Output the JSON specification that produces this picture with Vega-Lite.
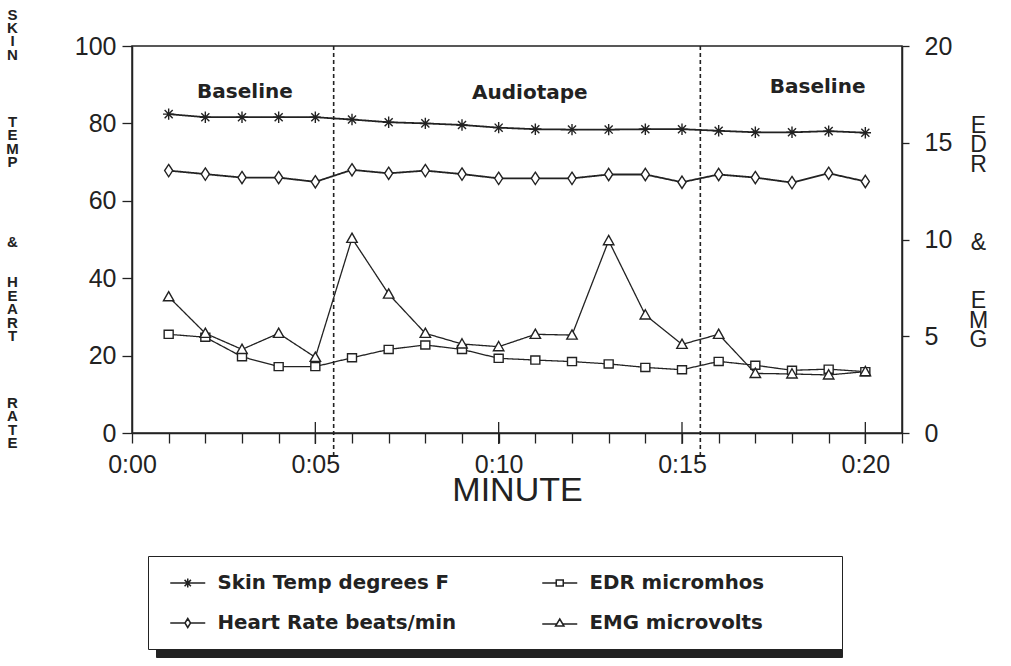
{
  "$schema": "https://vega.github.io/schema/vega-lite/v6.json",
  "width": 770,
  "height": 387,
  "autosize": {"type": "none"},
  "padding": {"left": 132, "top": 46, "right": 109, "bottom": 233},
  "background": "white",
  "config": {
    "view": {"stroke": "#222", "strokeWidth": 1.5},
    "font": "Liberation Sans"
  },
  "data": {
    "values": [
      {"minute": 1, "series": "Skin Temp degrees F", "value": 82.4},
      {"minute": 2, "series": "Skin Temp degrees F", "value": 81.6},
      {"minute": 3, "series": "Skin Temp degrees F", "value": 81.6},
      {"minute": 4, "series": "Skin Temp degrees F", "value": 81.6},
      {"minute": 5, "series": "Skin Temp degrees F", "value": 81.6},
      {"minute": 6, "series": "Skin Temp degrees F", "value": 81.0},
      {"minute": 7, "series": "Skin Temp degrees F", "value": 80.3},
      {"minute": 8, "series": "Skin Temp degrees F", "value": 80.0},
      {"minute": 9, "series": "Skin Temp degrees F", "value": 79.6},
      {"minute": 10, "series": "Skin Temp degrees F", "value": 78.9},
      {"minute": 11, "series": "Skin Temp degrees F", "value": 78.5},
      {"minute": 12, "series": "Skin Temp degrees F", "value": 78.4},
      {"minute": 13, "series": "Skin Temp degrees F", "value": 78.4},
      {"minute": 14, "series": "Skin Temp degrees F", "value": 78.5},
      {"minute": 15, "series": "Skin Temp degrees F", "value": 78.5},
      {"minute": 16, "series": "Skin Temp degrees F", "value": 78.1},
      {"minute": 17, "series": "Skin Temp degrees F", "value": 77.7},
      {"minute": 18, "series": "Skin Temp degrees F", "value": 77.7},
      {"minute": 19, "series": "Skin Temp degrees F", "value": 78.0},
      {"minute": 20, "series": "Skin Temp degrees F", "value": 77.6},
      {"minute": 1, "series": "Heart Rate beats/min", "value": 67.8},
      {"minute": 2, "series": "Heart Rate beats/min", "value": 66.9},
      {"minute": 3, "series": "Heart Rate beats/min", "value": 66.0},
      {"minute": 4, "series": "Heart Rate beats/min", "value": 66.0},
      {"minute": 5, "series": "Heart Rate beats/min", "value": 64.9},
      {"minute": 6, "series": "Heart Rate beats/min", "value": 68.0},
      {"minute": 7, "series": "Heart Rate beats/min", "value": 67.1},
      {"minute": 8, "series": "Heart Rate beats/min", "value": 67.8},
      {"minute": 9, "series": "Heart Rate beats/min", "value": 66.9},
      {"minute": 10, "series": "Heart Rate beats/min", "value": 65.8},
      {"minute": 11, "series": "Heart Rate beats/min", "value": 65.8},
      {"minute": 12, "series": "Heart Rate beats/min", "value": 65.8},
      {"minute": 13, "series": "Heart Rate beats/min", "value": 66.8},
      {"minute": 14, "series": "Heart Rate beats/min", "value": 66.8},
      {"minute": 15, "series": "Heart Rate beats/min", "value": 64.8},
      {"minute": 16, "series": "Heart Rate beats/min", "value": 66.8},
      {"minute": 17, "series": "Heart Rate beats/min", "value": 66.0},
      {"minute": 18, "series": "Heart Rate beats/min", "value": 64.7},
      {"minute": 19, "series": "Heart Rate beats/min", "value": 67.1},
      {"minute": 20, "series": "Heart Rate beats/min", "value": 65.0},
      {"minute": 1, "series": "EDR micromhos", "value": 5.1},
      {"minute": 2, "series": "EDR micromhos", "value": 4.95},
      {"minute": 3, "series": "EDR micromhos", "value": 3.94},
      {"minute": 4, "series": "EDR micromhos", "value": 3.43},
      {"minute": 5, "series": "EDR micromhos", "value": 3.43},
      {"minute": 6, "series": "EDR micromhos", "value": 3.89},
      {"minute": 7, "series": "EDR micromhos", "value": 4.32},
      {"minute": 8, "series": "EDR micromhos", "value": 4.55},
      {"minute": 9, "series": "EDR micromhos", "value": 4.32},
      {"minute": 10, "series": "EDR micromhos", "value": 3.86},
      {"minute": 11, "series": "EDR micromhos", "value": 3.77},
      {"minute": 12, "series": "EDR micromhos", "value": 3.69},
      {"minute": 13, "series": "EDR micromhos", "value": 3.57},
      {"minute": 14, "series": "EDR micromhos", "value": 3.39},
      {"minute": 15, "series": "EDR micromhos", "value": 3.27},
      {"minute": 16, "series": "EDR micromhos", "value": 3.7},
      {"minute": 17, "series": "EDR micromhos", "value": 3.5},
      {"minute": 18, "series": "EDR micromhos", "value": 3.24},
      {"minute": 19, "series": "EDR micromhos", "value": 3.3},
      {"minute": 20, "series": "EDR micromhos", "value": 3.17},
      {"minute": 1, "series": "EMG microvolts", "value": 7.04},
      {"minute": 2, "series": "EMG microvolts", "value": 5.15},
      {"minute": 3, "series": "EMG microvolts", "value": 4.32},
      {"minute": 4, "series": "EMG microvolts", "value": 5.15},
      {"minute": 5, "series": "EMG microvolts", "value": 3.91},
      {"minute": 6, "series": "EMG microvolts", "value": 10.06},
      {"minute": 7, "series": "EMG microvolts", "value": 7.18},
      {"minute": 8, "series": "EMG microvolts", "value": 5.15},
      {"minute": 9, "series": "EMG microvolts", "value": 4.6},
      {"minute": 10, "series": "EMG microvolts", "value": 4.46},
      {"minute": 11, "series": "EMG microvolts", "value": 5.1},
      {"minute": 12, "series": "EMG microvolts", "value": 5.06},
      {"minute": 13, "series": "EMG microvolts", "value": 9.94},
      {"minute": 14, "series": "EMG microvolts", "value": 6.1},
      {"minute": 15, "series": "EMG microvolts", "value": 4.58},
      {"minute": 16, "series": "EMG microvolts", "value": 5.1},
      {"minute": 17, "series": "EMG microvolts", "value": 3.08},
      {"minute": 18, "series": "EMG microvolts", "value": 3.05},
      {"minute": 19, "series": "EMG microvolts", "value": 3.0},
      {"minute": 20, "series": "EMG microvolts", "value": 3.17}
    ]
  },
  "encoding": {
    "x": {
      "field": "minute",
      "type": "quantitative",
      "scale": {"domain": [0, 21], "nice": false, "zero": false},
      "axis": {
        "values": [0,1,2,3,4,5,6,7,8,9,10,11,12,13,14,15,16,17,18,19,20,21],
        "labelExpr": "(datum.value % 5 === 0 && datum.value <= 20) ? '0:' + (datum.value < 10 ? '0' : '') + datum.value : ''",
        "tickSize": 10,
        "tickWidth": 1.3,
        "tickColor": "#222",
        "domainColor": "#222",
        "domainWidth": 1.5,
        "grid": false,
        "labelFontSize": 25,
        "labelColor": "#222",
        "labelBaseline": "alphabetic",
        "labelPadding": 29,
        "labelOverlap": false,
        "labelFlush": false,
        "title": "MINUTE",
        "titleFontSize": 34,
        "titleFontWeight": "normal",
        "titleColor": "#222",
        "titleBaseline": "alphabetic",
        "titleY": 67
      }
    }
  },
  "layer": [
    {
      "layer": [
        {
          "transform": [{"filter": {"field": "series", "oneOf": ["Skin Temp degrees F", "Heart Rate beats/min"]}}],
          "mark": {"type": "line", "color": "#222", "strokeWidth": 1.8},
          "encoding": {
            "y": {
              "field": "value",
              "type": "quantitative",
              "scale": {"domain": [0, 100], "nice": false},
              "axis": {
                "values": [0, 20, 40, 60, 80, 100],
                "tickSize": 10,
                "tickWidth": 1.3,
                "tickColor": "#222",
                "domainColor": "#222",
                "domainWidth": 1.5,
                "grid": false,
                "labelFontSize": 25,
                "labelColor": "#222",
                "labelPadding": 6,
                "title": ["S","K","I","N","\u2800","\u2800","\u2800","\u2800","T","E","M","P","\u2800","\u2800","\u2800","\u2800","\u2800","&","\u2800","\u2800","H","E","A","R","T","\u2800","\u2800","\u2800","\u2800","R","A","T","E"],
                "titleAngle": 0,
                "titleAlign": "center",
                "titleBaseline": "middle",
                "titleX": -120,
                "titleY": -32,
                "titleFontSize": 15,
                "titleFontWeight": "bold",
                "titleLineHeight": 13.4,
                "titleColor": "#222"
              }
            },
            "strokeDash": {
              "field": "series",
              "type": "nominal",
              "scale": {"range": [[1, 0], [1, 0], [1, 0], [1, 0]]},
              "legend": {
                "orient": "none",
                "legendX": 24,
                "legendY": 518,
                "title": null,
                "columns": 2,
                "gridAlign": "all",
                "columnPadding": 68,
                "rowPadding": 19,
                "padding": 16,
                "fillColor": "#222",
                "strokeColor": "#222",
                "symbolSize": 400,
                "symbolOpacity": 0,
                "symbolOffset": 12.75,
                "symbolStrokeWidth": 1.5,
                "labelOffset": 18.75,
                "labelFont": "DejaVu Sans",
                "labelFontWeight": "bold",
                "labelFontSize": 19.8,
                "labelColor": "#222",
                "labelOpacity": 0,
                "labelLimit": 0,
                "zindex": 0
              }
            }
          }
        },
        {
          "transform": [{"filter": {"field": "series", "oneOf": ["Skin Temp degrees F", "Heart Rate beats/min"]}}],
          "mark": {"type": "point", "filled": false, "fill": "white", "stroke": "#222", "strokeWidth": 1.4, "opacity": 1, "size": 90},
          "encoding": {
            "y": {"field": "value", "type": "quantitative", "scale": {"domain": [0, 100], "nice": false}},
            "shape": {
              "field": "series",
              "type": "nominal",
              "scale": {
                "domain": ["Skin Temp degrees F", "Heart Rate beats/min", "EDR micromhos", "EMG microvolts"],
                "range": [
                  "M0,-1.2V1.2M-1.2,0H1.2M-0.85,-0.85L0.85,0.85M-0.85,0.85L0.85,-0.85",
                  "M0,-1.3L0.85,0L0,1.3L-0.85,0Z",
                  "M-0.95,-0.85H0.95V0.85H-0.95Z",
                  "M0,-1.1L1.1,0.85H-1.1Z"
                ]
              },
              "legend": null
            }
          }
        },
        {
          "data": {"values": [{"minute": 5.5}, {"minute": 15.5}]},
          "mark": {"type": "rule", "strokeDash": [4, 3], "strokeWidth": 1.6, "color": "#222"},
          "encoding": {
            "y": {"datum": 100, "type": "quantitative", "scale": {"domain": [0, 100], "nice": false}},
            "y2": {"datum": -5.7}
          }
        },
        {
          "data": {"values": [
            {"minute": 3.08, "level": 88.0, "label": "Baseline"},
            {"minute": 10.85, "level": 87.8, "label": "Audiotape"},
            {"minute": 18.7, "level": 89.4, "label": "Baseline"}
          ]},
          "mark": {"type": "text", "font": "DejaVu Sans", "fontWeight": "bold", "fontSize": 20, "color": "#222", "baseline": "middle"},
          "encoding": {
            "y": {"field": "level", "type": "quantitative", "scale": {"domain": [0, 100], "nice": false}},
            "text": {"field": "label"}
          }
        },
        {
          "data": {"values": [{"minute": 5}, {"minute": 10}, {"minute": 15}, {"minute": 20}]},
          "mark": {"type": "tick", "orient": "vertical", "size": 22, "thickness": 1.3, "color": "#222", "opacity": 1},
          "encoding": {
            "y": {"datum": 0, "type": "quantitative", "scale": {"domain": [0, 100], "nice": false}}
          }
        }
      ]
    },
    {
      "layer": [
        {
          "transform": [{"filter": {"field": "series", "oneOf": ["EDR micromhos", "EMG microvolts"]}}],
          "mark": {"type": "line", "color": "#222", "strokeWidth": 1.3},
          "encoding": {
            "y": {
              "field": "value",
              "type": "quantitative",
              "scale": {"domain": [0, 20], "nice": false},
              "axis": {
                "orient": "right",
                "values": [0, 5, 10, 15, 20],
                "tickSize": 7,
                "tickWidth": 1.3,
                "tickColor": "#222",
                "domainColor": "#222",
                "domainWidth": 1.5,
                "grid": false,
                "labelFontSize": 25,
                "labelColor": "#222",
                "labelPadding": 15,
                "title": ["E","D","R","\u2800","\u2800","\u2800","&","\u2800","\u2800","E","M","G"],
                "titleAngle": 0,
                "titleAlign": "center",
                "titleBaseline": "middle",
                "titleX": 76,
                "titleY": 79,
                "titleFontSize": 23,
                "titleFontWeight": "normal",
                "titleLineHeight": 19.5,
                "titleColor": "#222"
              }
            },
            "strokeDash": {
              "field": "series",
              "type": "nominal",
              "scale": {"range": [[1, 0], [1, 0], [1, 0], [1, 0]]}
            }
          }
        },
        {
          "transform": [{"filter": {"field": "series", "oneOf": ["EDR micromhos", "EMG microvolts"]}}],
          "mark": {"type": "point", "filled": false, "fill": "white", "stroke": "#222", "strokeWidth": 1.4, "opacity": 1, "size": 90},
          "encoding": {
            "y": {"field": "value", "type": "quantitative", "scale": {"domain": [0, 20], "nice": false}},
            "shape": {
              "field": "series",
              "type": "nominal",
              "scale": {
                "domain": ["Skin Temp degrees F", "Heart Rate beats/min", "EDR micromhos", "EMG microvolts"],
                "range": [
                  "M0,-1.2V1.2M-1.2,0H1.2M-0.85,-0.85L0.85,0.85M-0.85,0.85L0.85,-0.85",
                  "M0,-1.3L0.85,0L0,1.3L-0.85,0Z",
                  "M-0.95,-0.85H0.95V0.85H-0.95Z",
                  "M0,-1.1L1.1,0.85H-1.1Z"
                ]
              },
              "legend": null
            }
          }
        }
      ]
    },
    {
      "transform": [{"filter": "false"}],
      "mark": {"type": "point", "filled": false, "fill": "white", "stroke": "#222", "strokeWidth": 1.5, "opacity": 1},
      "encoding": {
        "shape": {
          "field": "series",
          "type": "nominal",
          "scale": {
            "domain": ["Skin Temp degrees F", "Heart Rate beats/min", "EDR micromhos", "EMG microvolts"],
            "range": [
              "M-1.75,0H1.75M0,-0.45V0.45M-0.32,-0.32L0.32,0.32M-0.32,0.32L0.32,-0.32",
              "M-1.75,0H-0.28M0.28,0H1.75M0,-0.45L0.28,0L0,0.45L-0.28,0Z",
              "M-1.75,0H-0.35M0.35,0H1.75M-0.35,-0.3H0.35V0.3H-0.35Z",
              "M-1.75,0.1H-0.36M0.36,0.1H1.75M0,-0.4L0.42,0.3H-0.42Z"
            ]
          },
          "legend": {
            "orient": "none",
            "legendX": 16,
            "legendY": 510,
            "title": null,
            "columns": 2,
            "gridAlign": "all",
            "columnPadding": 18,
            "rowPadding": 19,
            "padding": 16,
            "fillColor": "white",
            "strokeColor": "#222",
            "symbolSize": 400,
            "symbolOffset": 12.75,
            "symbolStrokeWidth": 1.5,
            "symbolOpacity": 1,
            "labelOffset": 18.75,
            "labelFont": "DejaVu Sans",
            "labelFontWeight": "bold",
            "labelFontSize": 19.8,
            "labelColor": "#222",
            "labelLimit": 0,
            "labelExpr": "datum.label + '\u2800\u2800\u2800\u2800'",
            "zindex": 1,
            "encode": {
              "legend": {"strokeWidth": {"value": 1.5}}
            }
          }
        }
      }
    }
  ],
  "resolve": {"scale": {"y": "independent", "shape": "independent"}}
}
